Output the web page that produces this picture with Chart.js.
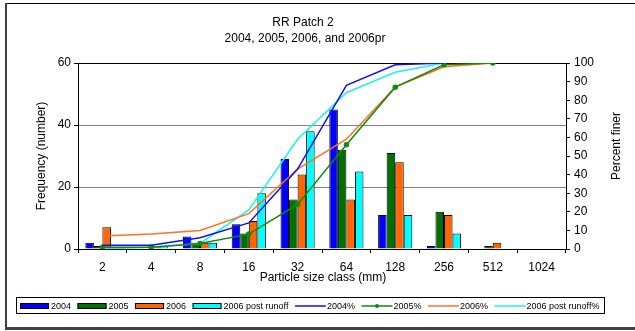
<!DOCTYPE html>
<html>
<head>
<meta charset="utf-8">
<script src="https://cdn.jsdelivr.net/npm/chart.js@4/dist/chart.umd.min.js"></script>
<style>
  html, body { margin:0; padding:0; background:#fff; }
  #wrap { width:635px; height:331px; position:relative; }
</style>
</head>
<body>
<div id="wrap"><canvas id="c" width="635" height="331"></canvas></div>
<script>
// --- DATI ---
const categorie = ["2","4","8","16","32","64","128","256","512","1024"];
const freq2004 = [2,0,4,8,29,45,11,1,0,0];
const freq2005 = [1,0,2,5,16,32,31,12,1,0];
const freq2006 = [7,1,2,9,24,16,28,11,2,0];
const freq2006pr = [0,1,2,18,38,25,11,5,0,0];
const perc2004 = [2,2,6,14,43,88,99,100,null,null];
const perc2005 = [1,1,3,8,24,56,87,99,100,null];
const perc2006 = [7,8,10,19,43,59,87,98,100,null];
const perc2006pr = [0,1,3,21,59,84,95,100,null,null];

const FONT = "Arial, 'Liberation Sans', sans-serif";

// --- cornice, titoli e legenda disegnati a mano ---
const decorPlugin = {
  id: "decor",
  afterDraw(chart){
    const ctx = chart.ctx;
    ctx.save();
    // cornice
    ctx.fillStyle = "#000";
    ctx.fillRect(6, 3, 629, 1);
    ctx.fillStyle = "#404040";
    ctx.fillRect(5, 3, 2, 326);
    ctx.fillRect(5, 327, 630, 3);

    // titolo
    ctx.fillStyle = "#000";
    ctx.textAlign = "center";
    ctx.textBaseline = "middle";
    ctx.font = "12px " + FONT;
    ctx.fillText("RR Patch 2", 303, 23);
    ctx.fillText("2004, 2005, 2006, and 2006pr", 305, 39);

    // titoli assi
    ctx.fillText("Particle size class (mm)", 323, 278);
    ctx.save();
    ctx.translate(42, 156);
    ctx.rotate(-Math.PI/2);
    ctx.fillText("Frequency (number)", 0, 0);
    ctx.restore();
    ctx.save();
    ctx.translate(617, 146);
    ctx.rotate(-Math.PI/2);
    ctx.fillText("Percent finer", 0, 0);
    ctx.restore();

    // legenda
    ctx.strokeStyle = "#000";
    ctx.lineWidth = 1;
    ctx.strokeRect(16.5, 297.5, 588, 16);
    ctx.font = "9px " + FONT;
    ctx.textAlign = "left";
    let x = 20;
    const y = 306;
    chart.data.datasets.forEach(ds=>{
      if(ds.type === "bar"){
        ctx.fillStyle = ds.backgroundColor;
        ctx.fillRect(x, y-3, 29, 6);
        ctx.strokeStyle = "#000";
        ctx.strokeRect(x+0.5, y-2.5, 28, 5);
        x += 31;
      } else {
        ctx.strokeStyle = ds.borderColor;
        ctx.lineWidth = 1.5;
        ctx.beginPath();
        ctx.moveTo(x, y);
        ctx.lineTo(x+31, y);
        ctx.stroke();
        ctx.lineWidth = 1;
        if(ds.pointRadius > 0){
          ctx.fillStyle = ds.borderColor;
          ctx.beginPath();
          ctx.arc(x+15.5, y, 2, 0, Math.PI*2);
          ctx.fill();
        }
        x += 32;
      }
      ctx.fillStyle = "#000";
      ctx.fillText(ds.label, x, y+0.5);
      x += ctx.measureText(ds.label).width + 6.5;
    });
    ctx.restore();
  }
};

function barDs(label, data, color){
  return { type:"bar", label, data, backgroundColor:color, borderColor:"#000", borderWidth:1,
           yAxisID:"y", order:2, categoryPercentage:0.7, barPercentage:1.0 };
}
function lineDs(label, data, color, marker){
  return { type:"line", label, data, borderColor:color, backgroundColor:color, borderWidth:1.5,
           pointRadius: marker?2:0, pointHoverRadius:0, tension:0, fill:false,
           yAxisID:"y1", order:1 };
}

new Chart(document.getElementById("c"), {
  data: {
    labels: categorie,
    datasets: [
      barDs("2004", freq2004, "#0000FF"),
      barDs("2005", freq2005, "#007000"),
      barDs("2006", freq2006, "#FF6600"),
      barDs("2006 post runoff", freq2006pr, "#00FFFF"),
      lineDs("2004%", perc2004, "#1010F0", false),
      lineDs("2005%", perc2005, "#108A10", true),
      lineDs("2006%", perc2006, "#FF7020", false),
      lineDs("2006 post runoff%", perc2006pr, "#20F0F0", false)
    ]
  },
  options: {
    responsive:false,
    animation:false,
    layout:{ padding:{ top:63, left:0, right:0, bottom:0 } },
    plugins:{ legend:{display:false}, title:{display:false}, tooltip:{enabled:false} },
    scales:{
      x:{
        offset:true,
        grid:{ offset:true, drawOnChartArea:false, drawTicks:true, tickLength:4, tickColor:"#000" },
        border:{ color:"#000", width:1 },
        ticks:{ color:"#000", font:{ family:FONT, size:12 }, padding:7, maxRotation:0, autoSkip:false },
        afterFit(s){ s.height = 82; }
      },
      y:{
        position:"left",
        min:0, max:60,
        ticks:{ stepSize:20, color:"#000", font:{ family:FONT, size:12 }, padding:3 },
        grid:{ color:ctx=> ctx.tick && ctx.tick.value===60 ? "#000" : "#808080", tickColor:"#000", tickLength:4, lineWidth:1 },
        border:{ color:"#000", width:1 },
        afterFit(s){ s.width = 78; }
      },
      y1:{
        position:"right",
        min:0, max:100,
        ticks:{ stepSize:10, color:"#000", font:{ family:FONT, size:12 }, padding:4 },
        grid:{ drawOnChartArea:false, tickColor:"#000", tickLength:4 },
        border:{ color:"#000", width:1 },
        afterFit(s){ s.width = 69; }
      }
    }
  },
  plugins:[decorPlugin]
});
</script>
</body>
</html>
